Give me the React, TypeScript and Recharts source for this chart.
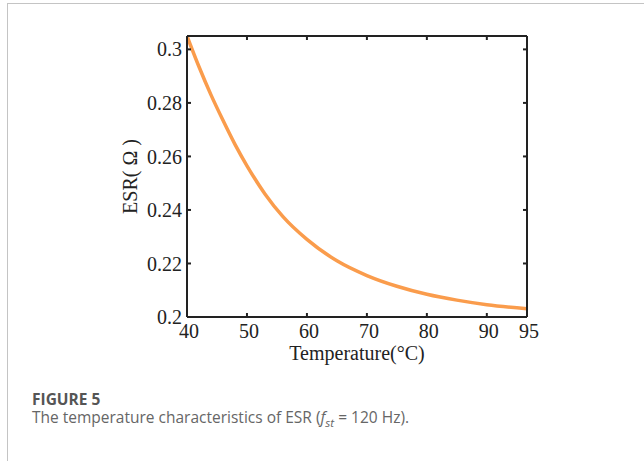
import React from 'react';
import { LineChart, Line, XAxis, YAxis } from 'recharts';

const temperatures = [40, 42, 44, 46, 48, 50, 53, 56, 60, 65, 70, 75, 80, 85, 90, 96.7];
const esrValues = [0.305, 0.2935, 0.283, 0.2735, 0.2645, 0.2565, 0.246, 0.2375, 0.229, 0.221, 0.2155, 0.2115, 0.2085, 0.2063, 0.2046, 0.2031];
const xTicks = [40, 50, 60, 70, 80, 90, 96.7];
const xTickLabels = ['40', '50', '60', '70', '80', '90', '95'];
const yTicks = [0.2, 0.22, 0.24, 0.26, 0.28, 0.3];
const yTickLabels = ['0.2', '0.22', '0.24', '0.26', '0.28', '0.3'];

const data = temperatures.map((t, i) => ({ t, esr: esrValues[i] }));

const axisFont = { fontFamily: '"Liberation Serif", "Times New Roman", serif', fontSize: 20, fill: '#222' };
const axisColor = '#222';
const xDomain = [40, 96.7];
const yDomain = [0.2, 0.305];

const yLabel = (p: any) => {
  const vb = p.viewBox;
  const cx = vb.x + vb.width - 57;
  const cy = vb.y + vb.height / 2;
  return (
    <text x={cx} y={cy} textAnchor="middle" dominantBaseline="central" transform={`rotate(-90, ${cx}, ${cy})`} style={axisFont}>
      ESR( Ω )
    </text>
  );
};

const xLabel = (p: any) => {
  const vb = p.viewBox;
  return (
    <text x={vb.x + vb.width / 2} y={vb.y + 43} textAnchor="middle" style={axisFont}>
      Temperature(°C)
    </text>
  );
};

const xTickFmt = (v: number) => xTickLabels[xTicks.indexOf(v)] ?? String(v);
const yTickFmt = (v: number) => yTickLabels[yTicks.indexOf(v)] ?? String(v);

export default function App() {
  return (
    <div style={{ position: 'absolute', left: 0, top: 0, width: 644, height: 461, background: '#fff', overflow: 'hidden' }}>
      <div style={{ position: 'absolute', left: 7, top: 3, width: 660, height: 470, borderTop: '1px solid #c4c4c4', borderLeft: '1px solid #c4c4c4' }} />
      <div style={{ position: 'absolute', left: 0, top: 0 }}>
        <LineChart width={644} height={380} data={data} margin={{ top: 35, right: 116, left: 0, bottom: 0 }}>
          <XAxis
            xAxisId="bottom"
            dataKey="t"
            type="number"
            domain={xDomain}
            ticks={xTicks}
            interval={0}
            height={63}
            tickSize={-4}
            tickMargin={11}
            tick={{ ...axisFont, dx: 2 }}
            tickFormatter={xTickFmt}
            axisLine={{ stroke: axisColor, strokeWidth: 2 }}
            tickLine={{ stroke: axisColor, strokeWidth: 2 }}
            allowDataOverflow
            label={{ content: xLabel }}
          />
          <XAxis
            xAxisId="top"
            dataKey="t"
            type="number"
            orientation="top"
            domain={xDomain}
            ticks={xTicks}
            interval={0}
            height={1}
            tickSize={-4}
            tick={{ fill: 'transparent', fontSize: 1 }}
            tickFormatter={() => ''}
            axisLine={{ stroke: axisColor, strokeWidth: 2 }}
            tickLine={{ stroke: axisColor, strokeWidth: 2 }}
            allowDataOverflow
          />
          <YAxis
            yAxisId="left"
            type="number"
            domain={yDomain}
            ticks={yTicks}
            interval={0}
            width={187}
            tickSize={-4}
            tickMargin={9}
            tick={axisFont}
            tickFormatter={yTickFmt}
            axisLine={{ stroke: axisColor, strokeWidth: 2 }}
            tickLine={{ stroke: axisColor, strokeWidth: 2 }}
            allowDataOverflow
            label={{ content: yLabel }}
          />
          <YAxis
            yAxisId="right"
            orientation="right"
            type="number"
            domain={yDomain}
            ticks={yTicks}
            interval={0}
            width={1}
            tickSize={-4}
            tick={{ fill: 'transparent', fontSize: 1 }}
            tickFormatter={() => ''}
            axisLine={{ stroke: axisColor, strokeWidth: 2 }}
            tickLine={{ stroke: axisColor, strokeWidth: 2 }}
            allowDataOverflow
          />
          <Line
            xAxisId="top"
            yAxisId="right"
            type="monotone"
            dataKey="esr"
            stroke="#FA9C4C"
            strokeOpacity={0}
            strokeWidth={1}
            dot={false}
            activeDot={false}
            isAnimationActive={false}
          />
          <Line
            xAxisId="bottom"
            yAxisId="left"
            type="monotone"
            dataKey="esr"
            stroke="#FA9C4C"
            strokeWidth={3.5}
            dot={false}
            isAnimationActive={false}
          />
        </LineChart>
      </div>
      <div style={{ position: 'absolute', left: 32, top: 391, lineHeight: '16px', fontFamily: '"Open Sans", "Noto Sans", sans-serif', fontSize: 15.5, fontWeight: 700, color: '#555', whiteSpace: 'nowrap' }}>
        FIGURE 5
      </div>
      <div style={{ position: 'absolute', left: 32, top: 409, lineHeight: '16px', fontFamily: '"Open Sans", "Noto Sans", sans-serif', fontSize: 15.5, color: '#666', whiteSpace: 'nowrap' }}>
        The temperature characteristics of ESR (<i>f</i><sub style={{ fontStyle: 'italic', fontSize: '0.75em', lineHeight: 0 }}>st</sub> = 120 Hz).
      </div>
    </div>
  );
}
